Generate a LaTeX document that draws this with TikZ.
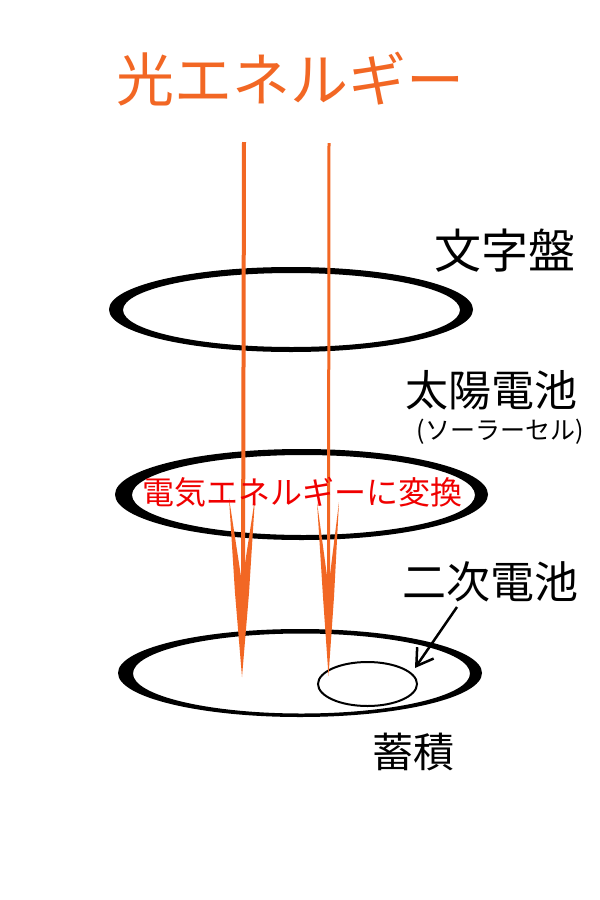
\documentclass[tikz,border=0pt]{standalone}
\usepackage{fontspec}
\setmainfont{Noto Sans CJK JP}
\usetikzlibrary{arrows.meta,shapes.geometric}
\definecolor{lightorange}{RGB}{242,103,36}
\definecolor{convred}{RGB}{240,0,0}
\tikzset{
  lbl/.style={inner sep=0pt, anchor=center, text=black},
  ring/.style={fill=black, even odd rule},
  beam/.style={draw=lightorange, line width=#1},
  beamhead/.style={fill=lightorange},
}
\begin{document}
\begin{tikzpicture}[x=1pt,y=-1pt]
\useasboundingbox (0,0) rectangle (600,900);
\fill[white] (0,0) rectangle (600,900);
% rings
\path[ring] (291,309.5) ellipse [x radius=182, y radius=42.5] (291.5,310) ellipse [x radius=168.5, y radius=37];
\path[ring] (301.5,494.5) ellipse [x radius=186.5, y radius=45.5] (303.5,495) ellipse [x radius=171.5, y radius=40];
\path[ring] (300,673) ellipse [x radius=182, y radius=44] (301.5,673.5) ellipse [x radius=168.5, y radius=40];
% small storage ellipse
\node[draw=black, line width=2pt, ellipse, minimum width=99pt, minimum height=44pt, inner sep=0pt] (cell) at (367.5,684) {};
% beams
\coordinate (b1s) at (244,142);
\coordinate (b1e) at (243,590);
\coordinate (b2s) at (329,143);
\coordinate (b2e) at (328.5,590);
\draw[beam=4pt] (b1s) -- (b1e);
\draw[beam=3pt] (b2s) -- (b2e);
\fill[beamhead] (229,498) -- (235,593) -- (242,677) -- (249,593) -- (255,498) -- (242,583) -- cycle;
\fill[beamhead] (317,502) -- (323,597) -- (328.5,676) -- (334,597) -- (339,502) -- (328.5,587) -- cycle;
% labels
\node[lbl, text=lightorange, font=\fontsize{58}{60}\selectfont] (title) at (290,79) {光エネルギー};
\node[lbl, font=\fontsize{47}{50}\selectfont] (dial) at (505,251) {文字盤};
\node[lbl, font=\fontsize{43}{46}\selectfont] (solar) at (491,390) {太陽電池};
\node[lbl, font=\fontsize{25}{27}\selectfont] (solarsub) at (500,432) {(ソーラーセル)};
\node[lbl, text=convred, font=\fontsize{32}{34}\selectfont] (conv) at (302.5,492.5) {電気エネルギーに変換};
\node[lbl, font=\fontsize{44}{46}\selectfont] (second) at (490,582) {二次電池};
\node[lbl, font=\fontsize{41}{44}\selectfont] (store) at (413.5,752) {蓄積};
% pointer
\coordinate (ptrs) at (457,607);
\coordinate (ptre) at (415,668);
\draw[line width=2.5pt, -{Straight Barb[length=16pt, width=20pt]}] (ptrs) -- (ptre);
\end{tikzpicture}
\end{document}
